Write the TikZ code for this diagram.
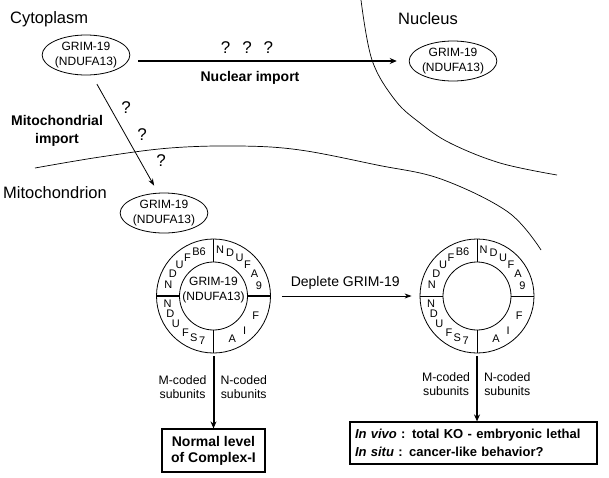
\documentclass[tikz,border=0pt]{standalone}
\usepackage{fontspec}
\setmainfont{Liberation Sans}
\usepackage{tikz}
\usetikzlibrary{shapes.geometric, arrows.meta, calc}

\begin{document}
\begin{tikzpicture}[x=1pt, y=-1pt,
    region/.style={font=\fontsize{16.5}{19}\selectfont, anchor=base west, inner sep=0pt},
    prot/.style={ellipse, draw, line width=0.8pt, minimum width=86pt, minimum height=40pt, inner sep=0pt, align=center, font=\fontsize{12}{15}\selectfont},
    ring/.style={circle, draw, line width=0.8pt, minimum size=114pt, inner sep=0pt},
    hole/.style={circle, draw, line width=0.8pt, minimum size=68pt, inner sep=0pt},
    sub/.style={font=\fontsize{11}{11}\selectfont, inner sep=0pt},
    lbl/.style={font=\bfseries\fontsize{14}{18}\selectfont, align=center},
    qm/.style={font=\fontsize{17}{17}\selectfont, inner sep=0pt},
    code/.style={font=\fontsize{12.3}{13.5}\selectfont, align=center, inner sep=0pt},
    result/.style={draw, line width=1.2pt, font=\bfseries\fontsize{14}{16}\selectfont},
    membrane/.style={line width=0.7pt},
    arr/.style={-{Stealth[length=7pt,width=6pt]}, line width=2pt},
    thinarr/.style={-{Stealth[length=7pt,width=5pt]}, line width=0.8pt}
]
\useasboundingbox (0,0) rectangle (609,477);

% Compartment borders
\draw[membrane] plot[smooth, tension=0.6] coordinates {(361,0) (372,60) (395,100) (420,123) (450,143) (500,163) (557,175)};
\draw[membrane] plot[smooth, tension=0.6] coordinates {(35,168) (100,157) (170,148) (240,146) (300,150) (377,165) (441,179) (508,212) (541,250)};

% Compartment names
\node[region] (cytolbl) at (10,23) {Cytoplasm};
\node[region] (nuclbl) at (398,24) {Nucleus};
\node[region] (mitolbl) at (3,198) {Mitochondrion};

% GRIM-19 in each compartment
\node[prot] (cyto) at (86,55) {GRIM-19\\(NDUFA13)};
\node[prot] (nuc) at (453,61) {GRIM-19\\(NDUFA13)};
\node[prot] (mito) at (164,213) {GRIM-19\\(NDUFA13)};

% Import routes
\draw[arr, line width=2.2pt, shorten <=8pt, shorten >=12pt] (cyto.east |- nuc.west) -- (nuc.west);
\node[qm] (qqq) at (247,48) {?\hspace{12pt}?\hspace{12pt}?};
\node[lbl] (nimp) at (250,78) {Nuclear import};

\draw[thinarr, shorten <=10pt, shorten >=8pt] ([xshift=6pt]cyto.south) -- ([xshift=-6pt]mito.north);
\node[qm] (q1) at (126,108) {?};
\node[qm] (q2) at (142,135) {?};
\node[qm] (q3) at (161,161) {?};
\node[lbl] (mimp) at (57,131) {Mitochondrial\\import};

% Complex I rings
\node[ring] (ringL) at (213.5,296) {};
\node[hole] (holeL) at (ringL) {};
\node[font=\fontsize{12}{15}\selectfont, align=center, inner sep=0pt] (grimL) at (213.5,290) {GRIM-19\\(NDUFA13)};
\node[ring] (ringR) at (477,296) {};
\node[hole] (holeR) at (ringR) {};

\draw[line width=0.8pt] (holeL.north) -- (ringL.north) (holeL.south) -- (ringL.south);
\draw[line width=1.8pt] (ringL.west) -- (holeL.west) (holeL.east) -- (ringL.east);
\draw[line width=0.8pt] (holeR.north) -- (ringR.north) (holeR.south) -- (ringR.south);
\draw[line width=0.8pt] (ringR.west) -- (holeR.west) (holeR.east) -- (ringR.east);

\foreach \r in {ringL, ringR}
  \foreach \a/\t in {166/N, 151/D, 137/U, 124/F, 108/B6, 82/N, 69/D, 56/U, 43/F, 28/A, 13/9,
                     189/N, 202/D, 216/U, 233/F, 245/S, 256/7, 294/A, 312/I, 335/F}
    \node[sub] at ($(\r)+(\a:46.5pt)$) {\t};

\draw[thinarr, shorten <=11pt, shorten >=8pt] (ringL.east) -- node[above=3pt, font=\fontsize{14}{16}\selectfont] (deplete) {Deplete GRIM-19} (ringR.west);

% Outcomes
\node[result, minimum width=103pt, minimum height=43pt, align=center] (normal) at (213.5,450.5) {Normal level\\of Complex-I};
\node[result, minimum width=247pt, minimum height=42pt, text width=237pt, inner xsep=5pt, align=left, font=\bfseries\fontsize{13}{18}\selectfont] (fate) at (473.5,443)
  {\textit{In vivo} : total KO - embryonic lethal\\\textit{In situ} : cancer-like behavior?};

\draw[arr, shorten <=3pt] (ringL.south) --
  node[code, left=6pt, pos=0.45] {M-coded\\subunits}
  node[code, right=6pt, pos=0.45] {N-coded\\subunits} (normal.north);
\draw[arr, shorten <=3pt] (ringR.south) --
  node[code, left=6pt, pos=0.45] {M-coded\\subunits}
  node[code, right=6pt, pos=0.45] {N-coded\\subunits} (ringR.south |- fate.north);
\end{tikzpicture}
\end{document}
